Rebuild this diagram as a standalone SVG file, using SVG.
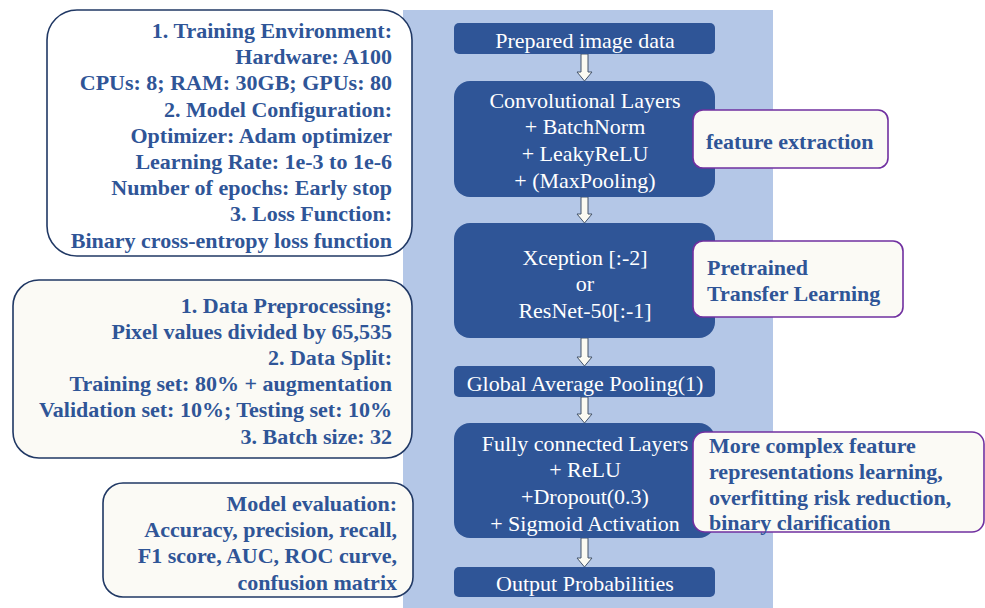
<svg xmlns="http://www.w3.org/2000/svg" width="985" height="608" viewBox="0 0 985 608">
<style>
.panel{fill:#b4c7e7}
.node{fill:#2f5597}
text{font-family:'Liberation Serif','Times New Roman',Times,'DejaVu Serif',serif;font-size:22px}
.nt{fill:#ffffff;text-anchor:middle}
.lb{stroke-width:1.6}
.lt{font-weight:bold;fill:#2f5597;text-anchor:end}
.rb{fill:#fbfaf5;stroke:#7030a0;stroke-width:1.6}
.rt{font-weight:bold;fill:#2f5597}
.arr{fill:#fbfaf2;stroke:#44546a;stroke-width:1}
</style>
<rect width="985" height="608" fill="#ffffff"/>
<rect class="panel" x="403" y="10" width="370" height="598"/>

<g id="box-training">
<rect class="lb" x="47" y="10" width="365" height="246" rx="30" fill="#ffffff" stroke="#203864"/>
<text class="lt" x="392" y="38">1. Training Environment:</text>
<text class="lt" x="392" y="64.2">Hardware: A100</text>
<text class="lt" x="392" y="90.4">CPUs: 8; RAM: 30GB; GPUs: 80</text>
<text class="lt" x="392" y="116.6">2. Model Configuration:</text>
<text class="lt" x="392" y="142.8">Optimizer: Adam optimizer</text>
<text class="lt" x="392" y="169">Learning Rate: 1e-3 to 1e-6</text>
<text class="lt" x="392" y="195.2">Number of epochs: Early stop</text>
<text class="lt" x="392" y="221.4">3. Loss Function:</text>
<text class="lt" x="392" y="247.6">Binary cross-entropy loss function</text>
</g>

<g id="box-data">
<rect class="lb" x="13" y="280" width="399" height="178" rx="26" fill="#fbfaf5" stroke="#203864"/>
<text class="lt" x="392" y="312.5">1. Data Preprocessing:</text>
<text class="lt" x="392" y="338.7">Pixel values divided by 65,535</text>
<text class="lt" x="392" y="364.9">2. Data Split:</text>
<text class="lt" x="392" y="391.1">Training set: 80% + augmentation</text>
<text class="lt" x="392" y="417.3">Validation set: 10%; Testing set: 10%</text>
<text class="lt" x="392" y="443.5">3. Batch size: 32</text>
</g>

<g id="box-eval">
<rect class="lb" x="103" y="483" width="310" height="114" rx="20" fill="#fbfaf5" stroke="#203864"/>
<text class="lt" x="397" y="510.5">Model evaluation:</text>
<text class="lt" x="397" y="536.9">Accuracy, precision, recall,</text>
<text class="lt" x="397" y="563.3">F1 score, AUC, ROC curve,</text>
<text class="lt" x="397" y="589.7">confusion matrix</text>
</g>

<g id="connectors">
<path class="arr" d="M581,54 L588,54 L588,72 L592,72 L584.5,81 L577,72 L581,72 Z"/>
<path class="arr" d="M581,197 L588,197 L588,214 L592,214 L584.5,223 L577,214 L581,214 Z"/>
<path class="arr" d="M581,338 L588,338 L588,357 L592,357 L584.5,366 L577,357 L581,357 Z"/>
<path class="arr" d="M581,397 L588,397 L588,414 L592,414 L584.5,423 L577,414 L581,414 Z"/>
<path class="arr" d="M581,538 L588,538 L588,558 L592,558 L584.5,567 L577,558 L581,558 Z"/>
</g>

<g id="node-prepared">
<rect class="node" x="454" y="23" width="261" height="31" rx="5"/>
<text class="nt" x="585" y="47.5">Prepared image data</text>
</g>

<g id="node-conv">
<rect class="node" x="454" y="81" width="261" height="116" rx="16"/>
<text class="nt" x="585" y="107.5">Convolutional Layers</text>
<text class="nt" x="585" y="134.2">+ BatchNorm</text>
<text class="nt" x="585" y="160.9">+ LeakyReLU</text>
<text class="nt" x="585" y="187.5">+ (MaxPooling)</text>
</g>

<g id="node-xception">
<rect class="node" x="454" y="223" width="261" height="115" rx="16"/>
<text class="nt" x="585" y="264.5">Xception [:-2]</text>
<text class="nt" x="585" y="291">or</text>
<text class="nt" x="585" y="317.5">ResNet-50[:-1]</text>
</g>

<g id="node-gap">
<rect class="node" x="454" y="366" width="261" height="31" rx="5"/>
<text class="nt" x="585" y="390.5">Global Average Pooling(1)</text>
</g>

<g id="node-fc">
<rect class="node" x="454" y="423" width="261" height="115" rx="16"/>
<text class="nt" x="585" y="450.5">Fully connected Layers</text>
<text class="nt" x="585" y="477.2">+ ReLU</text>
<text class="nt" x="585" y="503.9">+Dropout(0.3)</text>
<text class="nt" x="585" y="530.5">+ Sigmoid Activation</text>
</g>

<g id="node-output">
<rect class="node" x="454" y="567" width="261" height="30" rx="5"/>
<text class="nt" x="585" y="590.5">Output Probabilities</text>
</g>

<g id="note-feature">
<rect class="rb" x="693" y="110" width="195" height="58" rx="10"/>
<text class="rt" x="706" y="148.5">feature extraction</text>
</g>

<g id="note-pretrained">
<rect class="rb" x="693" y="241" width="210" height="76" rx="10"/>
<text class="rt" x="707" y="274.5">Pretrained</text>
<text class="rt" x="707" y="300.5">Transfer Learning</text>
</g>

<g id="note-complex">
<rect class="rb" x="693" y="432" width="291" height="100" rx="12"/>
<text class="rt" x="709" y="452.5">More complex feature</text>
<text class="rt" x="709" y="478.5">representations learning,</text>
<text class="rt" x="709" y="504.5">overfitting risk reduction,</text>
<text class="rt" x="709" y="529.5">binary clarification</text>
</g>
</svg>
